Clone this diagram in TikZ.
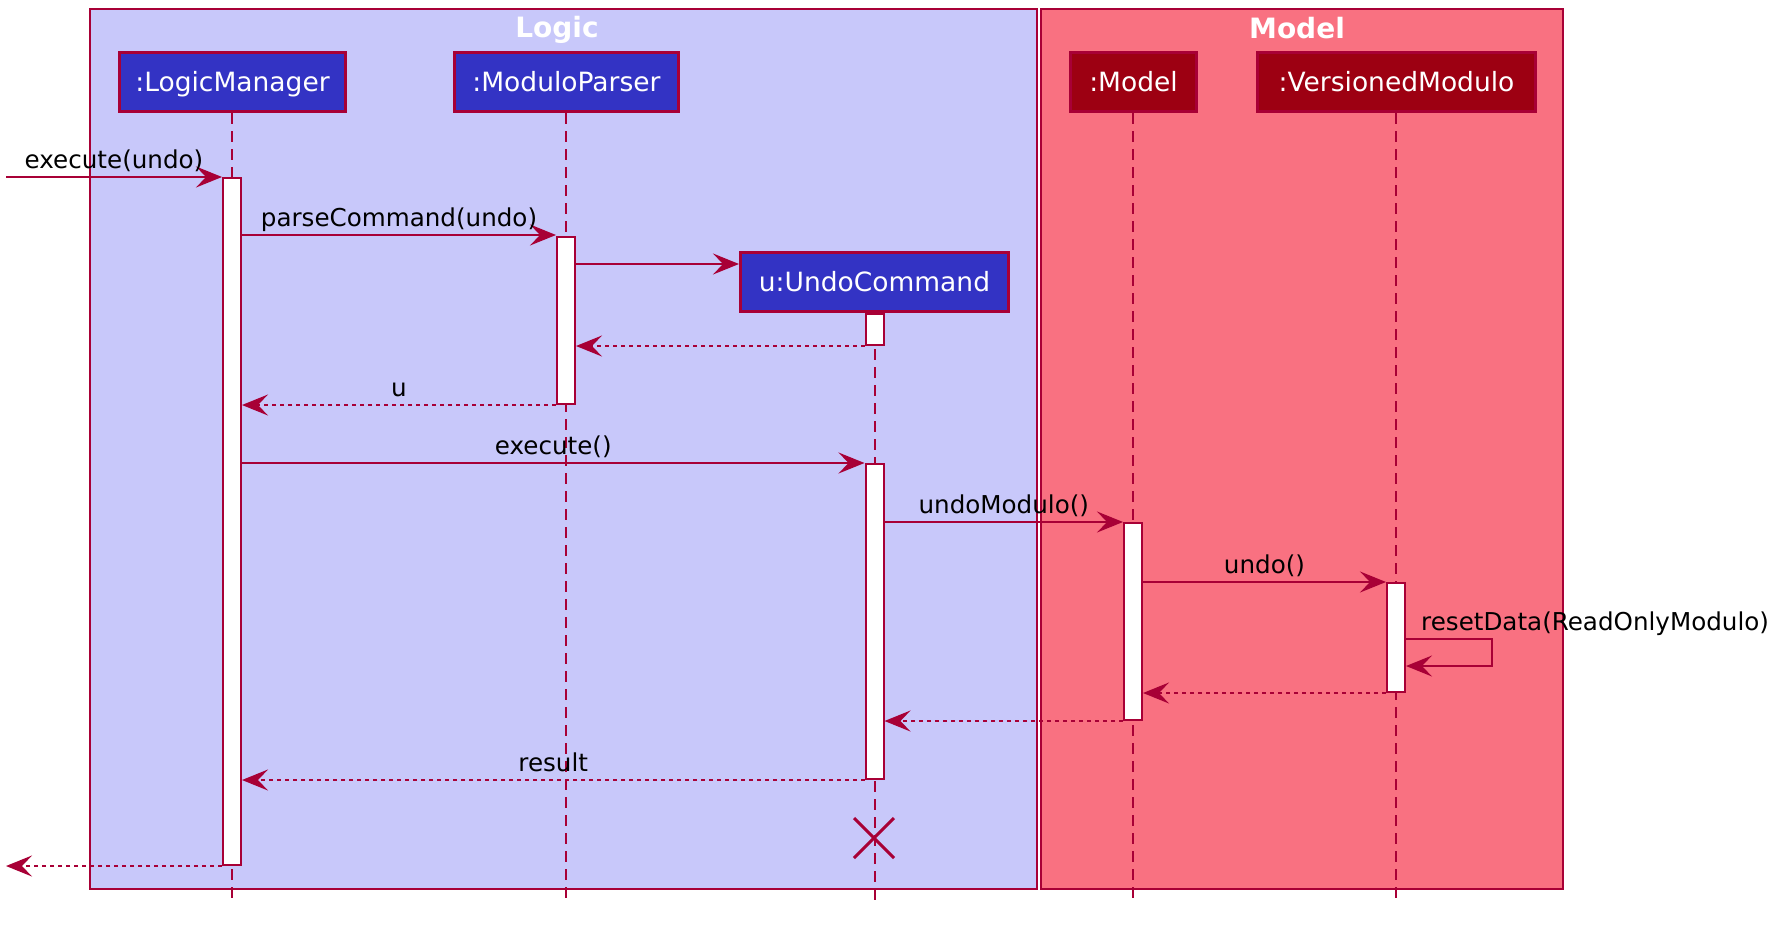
\documentclass[tikz,border=0pt]{standalone}
\usepackage{fontspec}
\setmainfont{DejaVu Sans}
\usetikzlibrary{arrows.meta,calc}
\definecolor{lineC}{HTML}{A80036}
\definecolor{logicC}{HTML}{3333C4}
\definecolor{logicT}{HTML}{C8C8FA}
\definecolor{modelC}{HTML}{9D0012}
\definecolor{modelT}{HTML}{F97181}
\begin{document}
\begin{tikzpicture}[x=1pt,y=-1pt,
  frame/.style={draw=lineC, line width=2pt},
  part/.style={draw=lineC, line width=3pt, text=white, inner sep=0pt, minimum height=59pt,
    font=\fontsize{26.5}{32}\selectfont, text height=19.3pt, text depth=0pt},
  lifeline/.style={draw=lineC, line width=2pt, dash pattern=on 11pt off 7pt},
  act/.style={draw=lineC, fill=white, line width=2pt, minimum width=18pt, inner sep=0pt},
  msg/.style={draw=lineC, line width=1.9pt, -{Stealth[length=26pt, width=21pt, inset=10pt]}},
  ret/.style={msg, dash pattern=on 4pt off 4pt},
  lbl/.style={font=\fontsize{24.6}{30}\selectfont, text=black, inner sep=0pt, anchor=base, yshift=9pt},
  ttl/.style={font=\fontsize{28}{34}\selectfont\bfseries, text=white, inner sep=0pt, anchor=base}
]
\useasboundingbox[fill=white] (0,0) rectangle (1790,924);
% frames
\draw[frame, fill=logicT] (90,9) rectangle (1037,889);
\draw[frame, fill=modelT] (1041,9) rectangle (1563,889);
\node[ttl] (tLogic) at (557,37) {Logic};
\node[ttl] (tModel) at (1297,38) {Model};
% participants (positions)
\coordinate (lmP) at (232.5,82);
\coordinate (mpP) at (566.5,82);
\coordinate (ucP) at (874.5,282);
\coordinate (moP) at (1133.5,82);
\coordinate (vmP) at (1396.5,82);
% lifelines
\draw[lifeline] (232,113) -- (232,900);
\draw[lifeline] (566,113) -- (566,900);
\draw[lifeline] (874.5,313) -- (874.5,900);
\draw[lifeline] (1133,113) -- (1133,900);
\draw[lifeline] (1396,113) -- (1396,900);
% participant boxes
\node[part, fill=logicC, minimum width=226pt] (lm) at (lmP) {:LogicManager};
\node[part, fill=logicC, minimum width=224pt] (mp) at (mpP) {:ModuloParser};
\node[part, fill=logicC, minimum width=268pt] (uc) at (ucP) {u:UndoCommand};
\node[part, fill=modelC, minimum width=126pt] (mo) at (moP) {:Model};
\node[part, fill=modelC, minimum width=278pt] (vm) at (vmP) {:VersionedModulo};
% activations
\node[act, minimum height=687pt] (lmA) at (232,521.5) {};
\node[act, minimum height=167pt] (mpA) at (566,320.5) {};
\node[act, minimum height=31pt] (ucA1) at (874.5,329.5) {};
\node[act, minimum height=315pt] (ucA2) at (874.5,621.5) {};
\node[act, minimum height=197pt] (moA) at (1133,621.5) {};
\node[act, minimum height=109pt] (vmA) at (1396,637.5) {};
% free ends
\coordinate (inL) at (6,177);
\coordinate (outL) at (6,866);
% messages
\draw[msg] (inL) -- node[lbl]{execute(undo)} (lmA.west |- inL);
\draw[msg] (lmA.east |- 0,235) -- node[lbl]{parseCommand(undo)} (mpA.west |- 0,235);
\draw[msg] (mpA.east |- 0,264) -- (uc.west |- 0,264);
\draw[ret] (ucA1.west |- 0,346) -- (mpA.east |- 0,346);
\draw[ret] (mpA.west |- 0,405) -- node[lbl]{u} (lmA.east |- 0,405);
\draw[msg] (lmA.east |- 0,463) -- node[lbl]{execute()} (ucA2.west |- 0,463);
\draw[msg] (ucA2.east |- 0,522) -- node[lbl]{undoModulo()} (moA.west |- 0,522);
\draw[msg] (moA.east |- 0,582) -- node[lbl]{undo()} (vmA.west |- 0,582);
\draw[msg] (vmA.east |- 0,639) -- ++(86,0) -- ++(0,27) -- (vmA.east |- 0,666);
\node[lbl, anchor=base west] (selfL) at (1421,639) {resetData(ReadOnlyModulo)};
\draw[ret] (vmA.west |- 0,693) -- (moA.east |- 0,693);
\draw[ret] (moA.west |- 0,721) -- (ucA2.east |- 0,721);
\draw[ret] (ucA2.west |- 0,780) -- node[lbl]{result} (lmA.east |- 0,780);
\draw[ret] (lmA.west |- outL) -- (outL);
% destroy
\coordinate (dx) at (874,838);
\draw[lineC, line width=3pt] ($(dx)+(-20,-20)$) -- ($(dx)+(20,20)$);
\draw[lineC, line width=3pt] ($(dx)+(-20,20)$) -- ($(dx)+(20,-20)$);
\end{tikzpicture}
\end{document}
